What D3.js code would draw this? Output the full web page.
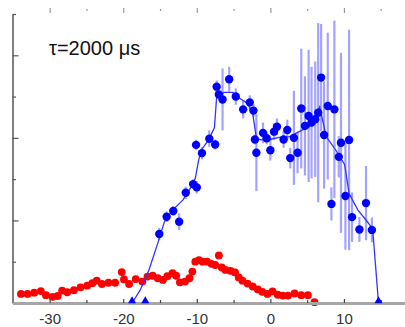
<!DOCTYPE html>
<html>
<head>
<meta charset="utf-8">
<script src="https://cdn.jsdelivr.net/npm/d3@7"></script>
<style>
	body { margin: 0; background: #fff; }
	svg { display: block; }
</style>
</head>
<body>
<div class="chart"></div>
<script>
// red series (no error bars)
var redX = [-33.9, -33.0, -32.1, -31.2, -30.5, -29.6, -28.9, -28.3, -27.6, -26.7, -25.8, -24.9, -24.2, -23.6,
	-22.9, -22.0, -21.1, -20.2, -19.9, -19.2, -18.3, -17.4, -16.7, -16.0, -15.3, -14.6, -14.0, -13.3, -12.8,
	-12.3, -11.6, -11.0, -10.6, -10.2, -9.7, -9.2, -8.6, -8.0, -7.5, -7.0, -6.6, -6.1, -5.4, -4.8, -4.3, -3.8,
	-3.1, -2.4, -1.7, -1.1, -0.4, 0.3, 1.0, 1.7, 2.4, 3.3, 4.2, 5.1, 6.0];
var redY = [0.22, 0.22, 0.25, 0.29, 0.19, 0.15, 0.17, 0.30, 0.26, 0.31, 0.38, 0.42, 0.48, 0.54,
	0.46, 0.49, 0.49, 0.75, 0.57, 0.46, 0.58, 0.52, 0.64, 0.66, 0.60, 0.56, 0.65, 0.72, 0.66,
	0.50, 0.52, 0.60, 0.76, 1.00, 1.04, 1.00, 1.00, 0.95, 0.92, 1.15, 0.86, 0.80, 0.78, 0.74, 0.62, 0.54,
	0.47, 0.40, 0.33, 0.27, 0.22, 0.28, 0.20, 0.18, 0.18, 0.23, 0.19, 0.19, 0.02];

// blue series with error bars
var blueX = [-15.1, -14.1, -13.2, -12.4, -11.5, -10.5, -10.0, -10.1, -9.3, -8.3, -7.5, -7.3, -7.0, -6.5,
	-5.6, -4.7, -3.7, -2.8, -2.3, -2.1, -1.9, -1.0, -0.5, 0.0, 0.5, 0.9, 1.8, 2.3, 2.7, 3.2, 3.7, 4.2,
	4.7, 5.2, 5.6, 6.1, 6.5, 6.9, 7.3, 7.8, 8.7, 9.3, 9.6, 10.7, 8.3, 10.2, 11.1, 12.1, 13.0, 13.8];
var blueY = [1.67, 2.09, 2.23, 1.97, 2.67, 2.88, 2.80, 3.83, 3.63, 3.98, 3.84, 5.24, 5.05, 4.93,
	5.42, 5.00, 4.69, 4.86, 4.66, 3.96, 3.64, 4.12, 3.99, 3.70, 4.15, 4.27, 3.96, 4.19, 3.51, 4.00, 3.64, 4.71,
	4.29, 4.53, 4.37, 4.45, 4.61, 5.46, 4.07, 4.77, 4.69, 3.54, 3.88, 3.95, 2.40, 2.59, 2.08, 1.78, 2.42, 1.77];
var blueErr = [0.15, 0.13, 0.12, 0.2, 0.15, 0.12, 0.15, 0.12, 0.15, 0.2, 0.12, 0.15, 0.1, 0.75,
	0.3, 0.2, 0.22, 0.17, 0.15, 0.12, 0.93, 0.25, 0.15, 0.25, 0.2, 0.2, 0.2, 0.25, 0.25, 1.14, 0.5, 1.45,
	1.2, 1.6, 1.35, 1.4, 2.17, 1.3, 1.3, 1.78, 2.15, 0.5, 2.18, 2.67, 0.4, 1.3, 0.6, 0.3, 0.9, 0.3];

// zero points drawn as triangles on the axis
var zeroX = [-18.8, -17.0, 14.7];

// fitted curve
var fitX = [-18.8, -17.7, -16.5, -15.3, -14.4, -13.3, -11.9, -11.0, -10.2, -9.75, -9.4, -8.4, -7.6, -7.3,
	-6.3, -5.1, -4.2, -3.1, -2.4, -1.9, -1.3, -0.1, 1.2, 2.6, 3.9, 5.3, 6.0, 6.7, 7.6, 8.9, 10.1, 10.7,
	11.9, 13.0, 13.9, 14.7];
var fitY = [0, 0.31, 0.8, 1.45, 1.97, 2.25, 2.49, 2.74, 3.02, 3.46, 3.7, 3.95, 4.25, 5.0,
	5.1, 5.1, 4.96, 4.84, 4.59, 3.99, 3.95, 3.96, 4.01, 4.03, 4.15, 4.27, 4.45, 4.75, 4.03, 3.7, 3.35, 2.65,
	2.25, 2.01, 1.8, 0];

var xMajorTicks = [-30, -20, -10, 0, 10],
	xMinorTicks = [-25, -15, -5, 5, 15],
	xTickLabels = ['-30', '-20', '-10', '0', '10'],
	yMajorTicks = [2, 4, 6],
	yMinorTicks = [1, 3, 5, 7],
	label = '\u03c4=2000 \u03bcs';

var width = 405, height = 327;
var x = d3.scaleLinear().domain([-35.05, 18.3]).range([12.5, 405]);
var y = d3.scaleLinear().domain([0, 7]).range([303, 14]);

var svg = d3.select('.chart').append('svg')
	.attr('width', width)
	.attr('height', height)
	.attr('font-family', 'Liberation Sans, Arial, sans-serif');

// top frame ticks (the frame line itself is cut off)
svg.append('g')
	.attr('transform', 'translate(0,8)')
	.call(d3.axisTop(x).tickValues(xMajorTicks).tickSize(-5).tickFormat(''))
	.call(function(g) { g.select('.domain').remove(); })
	.selectAll('line').attr('stroke', '#999').attr('stroke-width', 1.2);
svg.append('g')
	.attr('transform', 'translate(0,9)')
	.call(d3.axisTop(x).tickValues(xMinorTicks).tickSize(-2).tickFormat(''))
	.call(function(g) { g.select('.domain').remove(); })
	.selectAll('line').attr('stroke', '#999').attr('stroke-width', 1.2);

// left axis
var yAxis = svg.append('g')
	.attr('transform', 'translate(' + x.range()[0] + ',0)');
yAxis.append('g')
	.call(d3.axisLeft(y).tickValues(yMajorTicks).tickSize(-6).tickSizeOuter(0).tickFormat(''))
	.call(function(g) {
		g.select('.domain').attr('stroke', '#555').attr('stroke-width', 1.5);
		g.selectAll('line').attr('stroke', '#555').attr('stroke-width', 1.2);
	});
yAxis.append('g')
	.call(d3.axisLeft(y).tickValues(yMinorTicks).tickSize(-3.5).tickFormat(''))
	.call(function(g) {
		g.select('.domain').remove();
		g.selectAll('line').attr('stroke', '#555').attr('stroke-width', 1.2);
	});

// red points
svg.append('g').selectAll('circle')
	.data(d3.range(redX.length))
	.enter().append('circle')
	.attr('cx', function(i) { return x(redX[i]); })
	.attr('cy', function(i) { return y(redY[i]); })
	.attr('r', 3.9)
	.attr('fill', '#ff0000');

// error bars
svg.append('g').selectAll('line')
	.data(d3.range(blueX.length))
	.enter().append('line')
	.attr('x1', function(i) { return x(blueX[i]); })
	.attr('x2', function(i) { return x(blueX[i]); })
	.attr('y1', function(i) { return y(blueY[i] + blueErr[i]); })
	.attr('y2', function(i) { return y(blueY[i] - blueErr[i]); })
	.attr('stroke', '#8c8cff')
	.attr('stroke-opacity', 0.8)
	.attr('stroke-width', 2.2);

// fitted line
var fitLine = d3.line()
	.x(function(i) { return x(fitX[i]); })
	.y(function(i) { return y(fitY[i]); });
svg.append('path')
	.datum(d3.range(fitX.length))
	.attr('fill', 'none')
	.attr('stroke', '#3333ff')
	.attr('stroke-width', 1.3)
	.attr('d', fitLine);

// blue points
svg.append('g').selectAll('circle')
	.data(d3.range(blueX.length))
	.enter().append('circle')
	.attr('cx', function(i) { return x(blueX[i]); })
	.attr('cy', function(i) { return y(blueY[i]); })
	.attr('r', 4.2)
	.attr('fill', '#0000ff');

// bottom axis
svg.append('g')
	.attr('transform', 'translate(0,' + y(0) + ')')
	.call(d3.axisBottom(x).tickValues(xMajorTicks).tickSize(-4).tickSizeOuter(0).tickPadding(10)
		.tickFormat(function(d, i) { return xTickLabels[i]; }))
	.call(function(g) {
		g.select('.domain').attr('stroke', '#a6a6a6').attr('stroke-width', 3);
		g.selectAll('line').attr('stroke', '#444').attr('stroke-width', 1.2);
		g.selectAll('text').attr('font-size', '15px').attr('fill', '#333')
			.attr('font-family', 'Liberation Sans, Arial, sans-serif');
	});
svg.append('g')
	.attr('transform', 'translate(0,' + y(0) + ')')
	.call(d3.axisBottom(x).tickValues(xMinorTicks).tickSize(-3).tickFormat(''))
	.call(function(g) {
		g.select('.domain').remove();
		g.selectAll('line').attr('stroke', '#444').attr('stroke-width', 1.2);
	});

// zero-valued points
svg.append('g').selectAll('path')
	.data(zeroX)
	.enter().append('path')
	.attr('transform', function(d) { return 'translate(' + x(d) + ',' + (y(0) - 2) + ')'; })
	.attr('d', d3.symbol().type(d3.symbolTriangle).size(28))
	.attr('fill', '#0000ff');

svg.append('text')
	.attr('x', 49)
	.attr('y', 55)
	.attr('font-size', '20px')
	.attr('fill', '#111')
	.text(label);
</script>
</body>
</html>
